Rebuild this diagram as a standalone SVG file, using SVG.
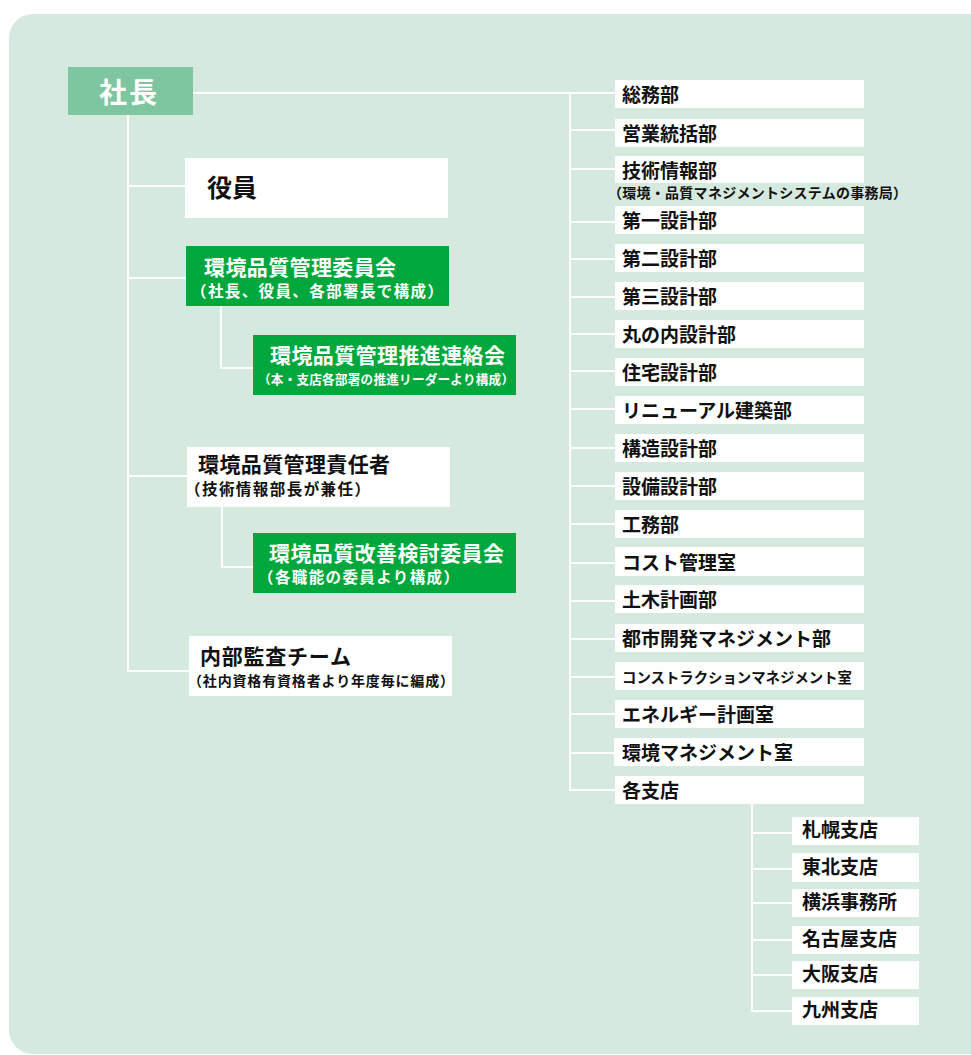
<svg xmlns="http://www.w3.org/2000/svg" width="971" height="1055" viewBox="0 0 971 1055">
<style>
.bg{fill:#d6e9df}
.w{fill:#ffffff}
.g{fill:#00a73c}
.top{fill:#7dc6a0}
.ln{stroke:#ffffff;stroke-width:2;fill:none}
text{font-family:"Noto Sans CJK JP","Noto Sans",sans-serif;font-weight:700}
.k{fill:#111111}
.wt{fill:#ffffff}
.d{font-size:19px}
.h1{font-size:21px}
</style>
<rect class="bg" x="9" y="14" width="990" height="1040" rx="24"/>
<g id="connectors">
<path class="ln" d="M193 93H615M570 93V790H615M570 130H615M570 169H615M570 222H615M570 259H615M570 297H615M570 334H615M570 371H615M570 409H615M570 448H615M570 486H615M570 524H615M570 563H615M570 601H615M570 639H615M570 677H615M570 714H615M570 753H615"/>
<path class="ln" d="M128 115V671H189M128 186H185M128 278H186M128 476H187"/>
<path class="ln" d="M221 306V368H253M222 507V567H253"/>
<path class="ln" d="M752 804V1011H792M752 833H792M752 869H792M752 903H792M752 940H792M752 975H792"/>
</g>
<g id="president"><rect class="top" x="68" y="67" width="125" height="48"/><text class="wt" x="129" y="103" font-size="28" text-anchor="middle" letter-spacing="2">社長</text></g>
<g id="officers"><rect class="w" x="185" y="158" width="263" height="60"/><text class="k" x="207" y="197" font-size="25">役員</text></g>
<g id="committee"><rect class="g" x="186" y="246" width="263" height="60"/><text class="wt h1" x="204" y="275" textLength="192" lengthAdjust="spacing">環境品質管理委員会</text><text class="wt" x="191" y="297" font-size="15.5" textLength="252" lengthAdjust="spacing">（社長、役員、各部署長で構成）</text></g>
<g id="liaison"><rect class="g" x="253" y="335" width="263" height="60"/><text class="wt h1" x="270" y="363" textLength="235" lengthAdjust="spacing">環境品質管理推進連絡会</text><text class="wt" x="258" y="384" font-size="12.6" textLength="256" lengthAdjust="spacing">（本・支店各部署の推進リーダーより構成）</text></g>
<g id="manager"><rect class="w" x="187" y="447" width="263" height="60"/><text class="k h1" x="198" y="472" textLength="192" lengthAdjust="spacing">環境品質管理責任者</text><text class="k" x="185" y="495" font-size="15.5" textLength="185" lengthAdjust="spacing">（技術情報部長が兼任）</text></g>
<g id="improve"><rect class="g" x="253" y="533" width="263" height="60"/><text class="wt h1" x="269" y="561" textLength="235" lengthAdjust="spacing">環境品質改善検討委員会</text><text class="wt" x="258" y="583" font-size="15.5" textLength="201" lengthAdjust="spacing">（各職能の委員より構成）</text></g>
<g id="audit"><rect class="w" x="189" y="636" width="263" height="60"/><text class="k h1" x="200" y="664" textLength="151" lengthAdjust="spacing">内部監査チーム</text><text class="k" x="188" y="686" font-size="14" textLength="266" lengthAdjust="spacing">（社内資格有資格者より年度毎に編成）</text></g>
<g id="d1"><rect class="w" x="615" y="80" width="249" height="28"/><text class="k d" x="622" y="102">総務部</text></g>
<g id="d2"><rect class="w" x="615" y="119" width="249" height="28"/><text class="k d" x="622" y="141">営業統括部</text></g>
<g id="d3"><rect class="w" x="615" y="156" width="249" height="27"/><text class="k d" x="622" y="178">技術情報部</text><text class="k" x="608" y="198" font-size="14" textLength="299" lengthAdjust="spacing">（環境・品質マネジメントシステムの事務局）</text></g>
<g id="d4"><rect class="w" x="615" y="206" width="249" height="28"/><text class="k d" x="622" y="228">第一設計部</text></g>
<g id="d5"><rect class="w" x="615" y="244" width="249" height="28"/><text class="k d" x="622" y="266">第二設計部</text></g>
<g id="d6"><rect class="w" x="615" y="282" width="249" height="28"/><text class="k d" x="622" y="304">第三設計部</text></g>
<g id="d7"><rect class="w" x="615" y="320" width="249" height="28"/><text class="k d" x="622" y="342">丸の内設計部</text></g>
<g id="d8"><rect class="w" x="615" y="358" width="249" height="28"/><text class="k d" x="622" y="380">住宅設計部</text></g>
<g id="d9"><rect class="w" x="615" y="396" width="249" height="28"/><text class="k d" x="622" y="418">リニューアル建築部</text></g>
<g id="d10"><rect class="w" x="615" y="434" width="249" height="28"/><text class="k d" x="622" y="456">構造設計部</text></g>
<g id="d11"><rect class="w" x="615" y="472" width="249" height="28"/><text class="k d" x="622" y="494">設備設計部</text></g>
<g id="d12"><rect class="w" x="615" y="510" width="249" height="28"/><text class="k d" x="622" y="532">工務部</text></g>
<g id="d13"><rect class="w" x="615" y="547" width="249" height="29"/><text class="k d" x="622" y="570">コスト管理室</text></g>
<g id="d14"><rect class="w" x="615" y="585" width="249" height="28"/><text class="k d" x="622" y="607">土木計画部</text></g>
<g id="d15"><rect class="w" x="615" y="624" width="249" height="28"/><text class="k d" x="622" y="646">都市開発マネジメント部</text></g>
<g id="d16"><rect class="w" x="615" y="662" width="249" height="28"/><text class="k" x="622" y="683" font-size="14.4">コンストラクションマネジメント室</text></g>
<g id="d17"><rect class="w" x="615" y="700" width="249" height="28"/><text class="k d" x="622" y="722">エネルギー計画室</text></g>
<g id="d18"><rect class="w" x="614" y="738" width="250" height="28"/><text class="k d" x="622" y="760">環境マネジメント室</text></g>
<g id="d19"><rect class="w" x="615" y="776" width="249" height="28"/><text class="k d" x="622" y="798">各支店</text></g>
<g id="b1"><rect class="w" x="792" y="817" width="127" height="28"/><text class="k d" x="802" y="837">札幌支店</text></g>
<g id="b2"><rect class="w" x="792" y="853" width="127" height="29"/><text class="k d" x="802" y="874">東北支店</text></g>
<g id="b3"><rect class="w" x="792" y="889" width="127" height="28"/><text class="k d" x="802" y="909">横浜事務所</text></g>
<g id="b4"><rect class="w" x="792" y="926" width="127" height="28"/><text class="k d" x="802" y="946">名古屋支店</text></g>
<g id="b5"><rect class="w" x="792" y="961" width="127" height="28"/><text class="k d" x="802" y="981">大阪支店</text></g>
<g id="b6"><rect class="w" x="792" y="997" width="127" height="28"/><text class="k d" x="802" y="1017">九州支店</text></g>
</svg>
